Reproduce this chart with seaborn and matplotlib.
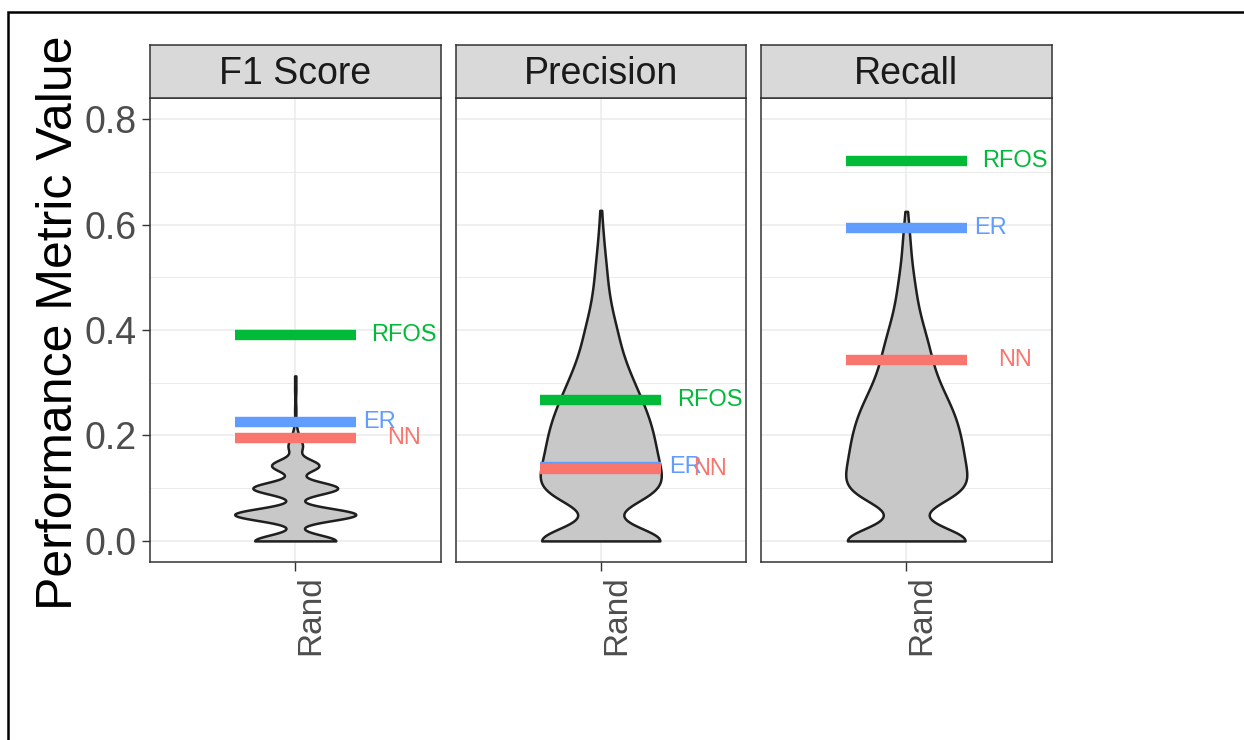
import numpy as np
import pandas as pd
import matplotlib
matplotlib.use("Agg")
import matplotlib.pyplot as plt
from matplotlib.patches import Rectangle
import seaborn as sns

# ---------------- data ----------------
METRICS = ["F1 Score", "Precision", "Recall"]
CATEGORY = "Rand"

# random-baseline distributions (value, count)
F1_VALUES = [0.0, 0.05, 0.1, 0.143, 0.179, 0.2, 0.222, 0.25, 0.286, 0.313]
F1_COUNTS = [67, 100, 70, 39, 11, 4, 1, 1, 1, 1]

PREC_VALUES = [0.0, 0.08, 0.10, 0.12, 0.14, 0.16, 0.18, 0.20, 0.22, 0.24, 0.26,
               0.28, 0.30, 0.32, 0.34, 0.36, 0.38, 0.40, 0.42, 0.44, 0.46,
               0.48, 0.50, 0.52, 0.54, 0.56, 0.58, 0.60, 0.627]
PREC_COUNTS = [125, 42, 42, 41, 39, 37, 36, 35, 33, 31, 28,
               25, 22, 19, 16, 14, 12, 11, 9, 7, 6,
               5, 4, 4, 3, 2, 2, 1, 1]

REC_VALUES = [0.0, 0.08, 0.10, 0.12, 0.14, 0.16, 0.18, 0.20, 0.22, 0.24, 0.26,
              0.28, 0.30, 0.32, 0.34, 0.36, 0.38, 0.40, 0.42, 0.44, 0.46,
              0.48, 0.50, 0.52, 0.54, 0.56, 0.58, 0.60, 0.625]
REC_COUNTS = [125, 42, 42, 41, 39, 38, 37, 36, 34, 32, 29,
              25, 22, 19, 17, 16, 14, 12, 10, 8, 7,
              6, 5, 4, 3, 3, 2, 2, 1]

# model results (horizontal segments)
MODELS = ["ER", "NN", "RFOS"]
ER_VALUES = [0.226, 0.140, 0.594]
NN_VALUES = [0.196, 0.137, 0.344]
RFOS_VALUES = [0.390, 0.268, 0.720]

# ---------------- style ----------------
MODEL_COLORS = {"ER": "#619CFF", "NN": "#F8766D", "RFOS": "#00BA38"}
LABEL_OFFSET = {"ER": 0.35, "NN": 0.45, "RFOS": 0.45}
BANDWIDTH = [0.0115, 0.026, 0.026]

sns.set_theme(style="white")
plt.rcParams["font.family"] = ["Liberation Sans", "DejaVu Sans"]

W, H = 1244, 740
fig = plt.figure(figsize=(W / 100, H / 100), dpi=100)

# outer frame
fig.patches.append(Rectangle((8 / W, -0.1), 1.2, 1 - 12 / H + 0.1,
                             transform=fig.transFigure, fill=False,
                             edgecolor="black", linewidth=1.8, zorder=10))

panel_left = [150, 455.5, 761]
panel_w = 290.5
top_px, bot_px, strip_top = 98, 562, 45

dists = [(F1_VALUES, F1_COUNTS), (PREC_VALUES, PREC_COUNTS), (REC_VALUES, REC_COUNTS)]
model_vals = {"ER": ER_VALUES, "NN": NN_VALUES, "RFOS": RFOS_VALUES}

for i, metric in enumerate(METRICS):
    l = panel_left[i]
    ax = fig.add_axes([l / W, 1 - bot_px / H, panel_w / W, (bot_px - top_px) / H])
    vals, cnts = dists[i]
    data = np.repeat(np.array(vals, dtype=float), cnts)
    df = pd.DataFrame({"model": [CATEGORY] * len(data), "value": data})
    factor = BANDWIDTH[i] / np.std(data, ddof=1)
    sns.violinplot(data=df, x="model", y="value", ax=ax, color="#C8C8C8",
                   saturation=1, linecolor="#1F1F1F", linewidth=1.8,
                   inner=None, cut=0, width=0.5, bw_method=factor,
                   gridsize=600, density_norm="width")
    for m in MODELS:
        v = model_vals[m][i]
        ax.hlines(v, -0.25, 0.25, color=MODEL_COLORS[m], linewidth=7.5,
                  zorder=3, capstyle="butt")
        ax.text(LABEL_OFFSET[m], v, m, color=MODEL_COLORS[m], fontsize=17,
                ha="center", va="center", clip_on=False, zorder=4)

    ax.set_xlim(-0.6, 0.6)
    ax.set_ylim(-0.04, 0.84)
    ax.set_yticks([0.0, 0.2, 0.4, 0.6, 0.8])
    ax.set_yticks([0.1, 0.3, 0.5, 0.7], minor=True)
    ax.set_xticks([0])
    ax.set_xticklabels([CATEGORY], rotation=90, ha="left", va="top")
    ax.set_xlabel("")
    ax.set_ylabel("")
    ax.set_axisbelow(True)
    ax.grid(which="major", color="#EBEBEB", linewidth=1.1)
    ax.grid(which="minor", axis="y", color="#EBEBEB", linewidth=0.7)
    for s in ax.spines.values():
        s.set_color("#333333")
        s.set_linewidth(1.1)
        s.set_visible(True)
    ax.tick_params(axis="x", which="major", length=6.5, width=1.0, color="#333333",
                   labelsize=24, labelcolor="#4D4D4D", pad=3, bottom=True)
    ax.tick_params(which="minor", length=0)
    if i == 0:
        ax.tick_params(axis="y", which="major", length=5.5, width=1.0,
                       color="#333333", labelsize=27, labelcolor="#4D4D4D",
                       pad=4, left=True)
        ax.set_yticklabels(["0.0", "0.2", "0.4", "0.6", "0.8"])
    else:
        ax.tick_params(axis="y", which="both", length=0, labelleft=False)

    # facet strip
    sax = fig.add_axes([l / W, 1 - top_px / H, panel_w / W, (top_px - strip_top) / H])
    sax.set_facecolor("#D9D9D9")
    sax.set_xticks([])
    sax.set_yticks([])
    for s in sax.spines.values():
        s.set_color("#333333")
        s.set_linewidth(1.1)
        s.set_visible(True)
    sax.text(0.5, 0.45, metric, transform=sax.transAxes, ha="center",
             va="center", fontsize=27, color="#1A1A1A")

fig.text(59 / W, 1 - 323 / H, "Performance Metric Value", rotation=90,
         ha="center", va="center", fontsize=36, color="black")

fig.savefig("out.png", dpi=100)
